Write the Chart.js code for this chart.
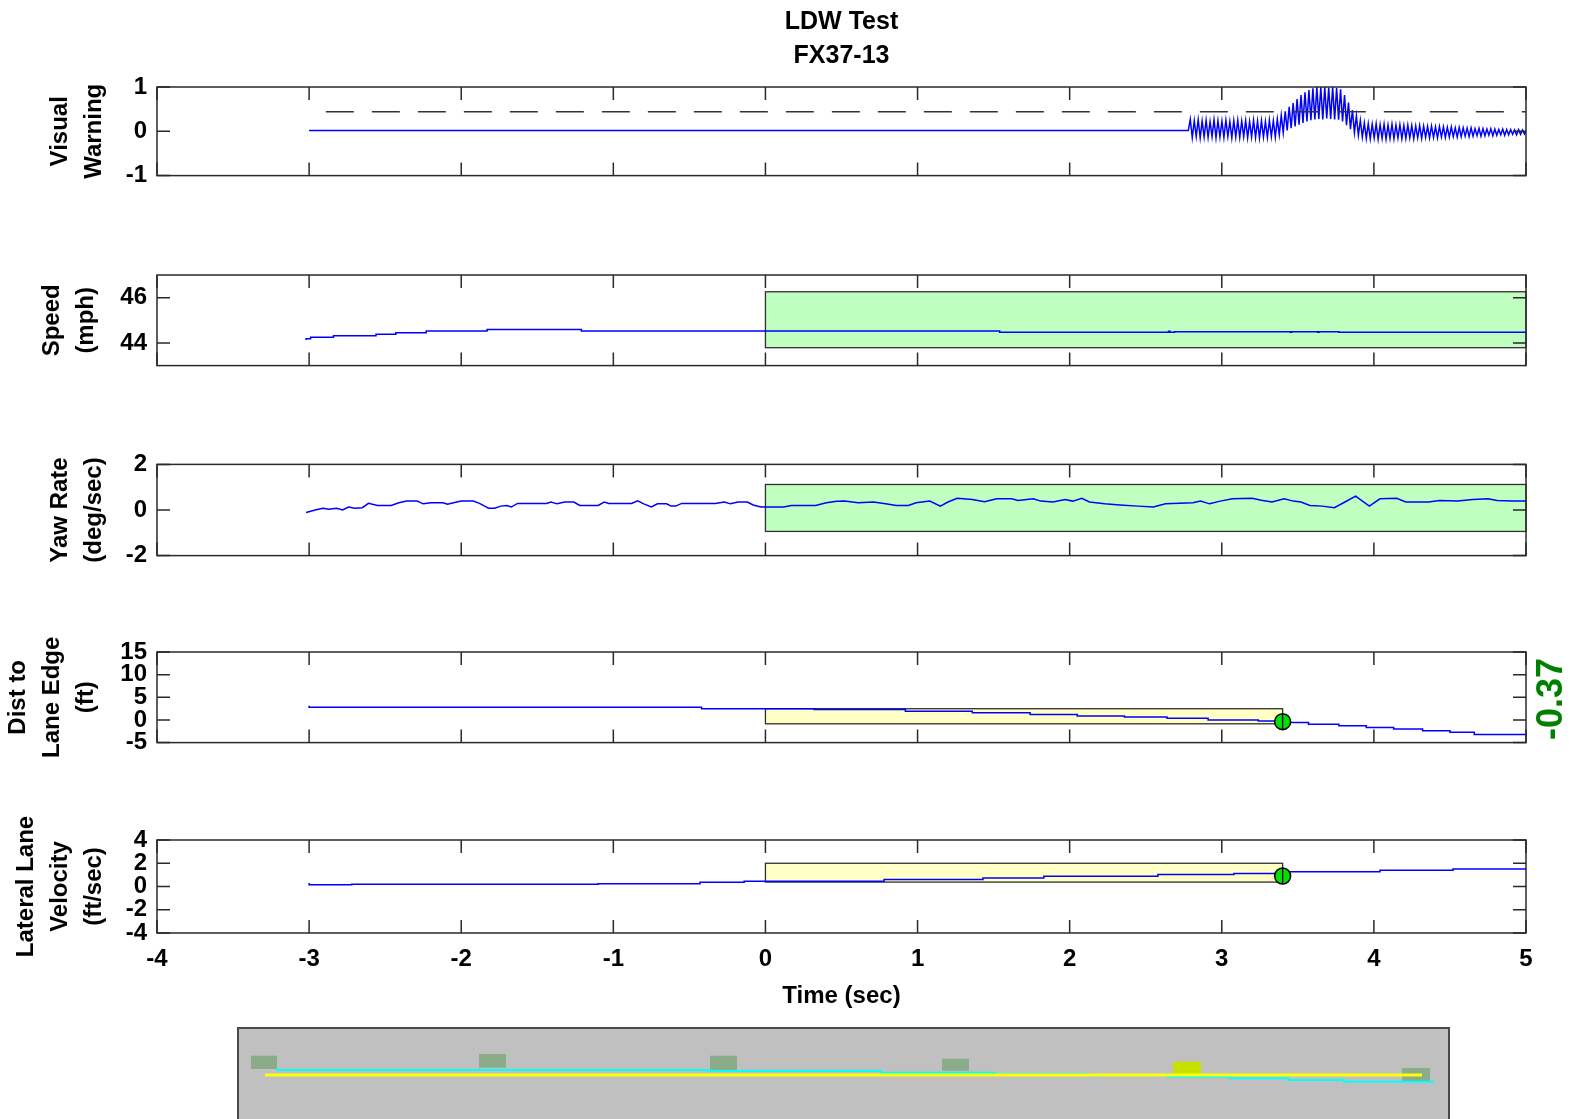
<!DOCTYPE html>
<html>
<head>
<meta charset="utf-8">
<script src="https://cdn.jsdelivr.net/npm/chart.js@4.4.1/dist/chart.umd.min.js"></script>
<style>
html,body{margin:0;padding:0;background:#fff;width:1570px;height:1119px;overflow:hidden;}
canvas{position:absolute;left:0;}
#dval{position:absolute;left:1550px;top:699px;transform:translate(-50%,-50%) rotate(-90deg);white-space:nowrap;line-height:1;
  font-family:"Liberation Sans",Arial,sans-serif;font-weight:bold;font-size:36px;color:#008000;}
</style>
</head>
<body>
<canvas id="c1" width="1570" height="200" style="top:0px"></canvas>
<canvas id="c2" width="1570" height="140" style="top:250px"></canvas>
<canvas id="c3" width="1570" height="140" style="top:440px"></canvas>
<canvas id="c4" width="1570" height="140" style="top:627px"></canvas>
<canvas id="c5" width="1570" height="205" style="top:815px"></canvas>
<canvas id="c6" width="1213" height="92" style="top:1027px;left:237px"></canvas>
<div id="dval">-0.37</div>
<script>
// ---------------- data ----------------
const chartTitle = ['LDW Test', 'FX37-13'];
const xTicks = [-4, -3, -2, -1, 0, 1, 2, 3, 4, 5];

// Visual warning
const vwTime = [-3.000, 2.780, 2.793, 2.806, 2.819, 2.832, 2.845, 2.858, 2.871, 2.884, 2.897, 2.910, 2.923, 2.936, 2.949,
  2.962, 2.975, 2.988, 3.001, 3.014, 3.027, 3.040, 3.053, 3.066, 3.079, 3.092, 3.105, 3.118, 3.131, 3.144, 3.157, 3.170,
  3.183, 3.196, 3.209, 3.222, 3.235, 3.248, 3.261, 3.274, 3.287, 3.300, 3.313, 3.326, 3.339, 3.352, 3.365, 3.378, 3.391,
  3.404, 3.417, 3.430, 3.443, 3.456, 3.469, 3.482, 3.495, 3.508, 3.521, 3.534, 3.547, 3.560, 3.573, 3.586, 3.599, 3.612,
  3.625, 3.638, 3.651, 3.664, 3.677, 3.690, 3.703, 3.716, 3.729, 3.742, 3.755, 3.768, 3.781, 3.794, 3.807, 3.820, 3.833,
  3.846, 3.859, 3.872, 3.885, 3.898, 3.911, 3.924, 3.937, 3.950, 3.963, 3.976, 3.989, 4.002, 4.015, 4.028, 4.041, 4.054,
  4.067, 4.080, 4.093, 4.106, 4.119, 4.132, 4.145, 4.158, 4.171, 4.184, 4.197, 4.210, 4.223, 4.236, 4.249, 4.262, 4.275,
  4.288, 4.301, 4.314, 4.327, 4.340, 4.353, 4.366, 4.379, 4.392, 4.405, 4.418, 4.431, 4.444, 4.457, 4.470, 4.483, 4.496,
  4.509, 4.522, 4.535, 4.548, 4.561, 4.574, 4.587, 4.600, 4.613, 4.626, 4.639, 4.652, 4.665, 4.678, 4.691, 4.704, 4.717,
  4.730, 4.743, 4.756, 4.769, 4.782, 4.795, 4.808, 4.821, 4.834, 4.847, 4.860, 4.873, 4.886, 4.899, 4.912, 4.925, 4.938,
  4.951, 4.964, 4.977, 4.990, 5.000];
const vwValue = [0.02, 0.02, 0.27, -0.14, 0.24, -0.12, 0.26, -0.15, 0.23, -0.13, 0.25, -0.14, 0.22, -0.12, 0.26,
  -0.15, 0.24, -0.13, 0.23, -0.14, 0.25, -0.12, 0.22, -0.15, 0.24, -0.13, 0.25, -0.14, 0.23, -0.12, 0.24, -0.15,
  0.22, -0.13, 0.25, -0.14, 0.23, -0.15, 0.24, -0.13, 0.22, -0.14, 0.25, -0.12, 0.24, -0.13, 0.28, -0.08, 0.36,
  -0.03, 0.45, 0.02, 0.55, 0.07, 0.64, 0.11, 0.73, 0.15, 0.82, 0.19, 0.88, 0.22, 0.93, 0.25, 0.97, 0.27,
  1.00, 0.28, 1.00, 0.27, 1.00, 0.29, 0.99, 0.28, 1.00, 0.27, 0.98, 0.26, 0.95, 0.22, 0.82, 0.14, 0.65,
  0.05, 0.48, -0.03, 0.35, -0.09, 0.25, -0.13, 0.19, -0.16, 0.17, -0.17, 0.16, -0.15, 0.17, -0.18, 0.15, -0.16,
  0.16, -0.18, 0.14, -0.16, 0.16, -0.17, 0.14, -0.15, 0.15, -0.17, 0.13, -0.16, 0.14, -0.15, 0.13, -0.17, 0.12,
  -0.15, 0.13, -0.16, 0.12, -0.14, 0.11, -0.15, 0.12, -0.14, 0.10, -0.15, 0.11, -0.13, 0.10, -0.14, 0.09, -0.13,
  0.10, -0.12, 0.08, -0.13, 0.09, -0.12, 0.08, -0.11, 0.07, -0.12, 0.08, -0.11, 0.06, -0.10, 0.07, -0.11, 0.06,
  -0.10, 0.05, -0.09, 0.06, -0.10, 0.05, -0.09, 0.04, -0.08, 0.05, -0.09, 0.04, -0.08, 0.04, -0.07, 0.03, -0.08,
  0.04, -0.07, 0.03, -0.06, 0.02];
const vwThresholdTime = [-2.89, 5.0];
const vwThresholdValue = [0.44, 0.44];
const vwTicks = [-1, 0, 1];

// Speed
const speedTime = [-3.02, -2.99, -2.84, -2.56, -2.43, -2.23, -1.83, -1.21, 1.54, 2.65, 2.66, 2.69, 3.45, 3.46, 3.63, 3.64, 3.77, 3.78, 5.00];
const speedValue = [44.13, 44.19, 44.25, 44.32, 44.38, 44.45, 44.53, 44.59, 44.53, 44.47, 44.52, 44.47, 44.50, 44.47, 44.50, 44.47, 44.50, 44.47, 44.47];
const speedBandTime = [0, 5];
const speedBand = [43.79, 46.26];
const speedTicks = [44, 46];

// Yaw rate
const yawTime = [-3.02, -2.96, -2.91, -2.87, -2.82, -2.78, -2.74, -2.70, -2.65, -2.61, -2.55, -2.46, -2.41, -2.36, -2.29, -2.25,
  -2.20, -2.12, -2.09, -2.05, -2.00, -1.92, -1.88, -1.82, -1.78, -1.74, -1.70, -1.67, -1.63, -1.44, -1.41, -1.37, -1.32, -1.26,
  -1.22, -1.10, -1.06, -1.03, -0.88, -0.84, -0.80, -0.75, -0.71, -0.65, -0.62, -0.59, -0.55, -0.33, -0.27, -0.23, -0.18, -0.12,
  -0.08, -0.03, 0.02, 0.12, 0.17, 0.33, 0.40, 0.47, 0.52, 0.61, 0.71, 0.79, 0.86, 0.94, 0.99, 1.08, 1.15, 1.20, 1.26, 1.36,
  1.44, 1.52, 1.62, 1.66, 1.76, 1.81, 1.89, 1.97, 2.02, 2.08, 2.13, 2.23, 2.33, 2.45, 2.55, 2.63, 2.81, 2.86, 2.92, 2.99,
  3.07, 3.20, 3.26, 3.33, 3.41, 3.47, 3.52, 3.58, 3.66, 3.74, 3.81, 3.88, 3.97, 4.04, 4.15, 4.21, 4.36, 4.43, 4.55, 4.65,
  4.75, 4.81, 4.91, 5.00];
const yawValue = [-0.11, 0.00, 0.08, 0.03, 0.08, 0.00, 0.13, 0.08, 0.10, 0.29, 0.20, 0.20, 0.32, 0.39, 0.39, 0.27,
  0.32, 0.32, 0.25, 0.32, 0.39, 0.39, 0.29, 0.08, 0.08, 0.17, 0.20, 0.13, 0.29, 0.29, 0.35, 0.27, 0.35, 0.35,
  0.20, 0.20, 0.35, 0.29, 0.29, 0.40, 0.27, 0.13, 0.27, 0.27, 0.17, 0.17, 0.29, 0.29, 0.35, 0.27, 0.35, 0.35,
  0.22, 0.13, 0.13, 0.13, 0.20, 0.20, 0.32, 0.38, 0.39, 0.32, 0.35, 0.27, 0.20, 0.20, 0.32, 0.39, 0.17, 0.35, 0.51, 0.46,
  0.36, 0.49, 0.49, 0.42, 0.49, 0.39, 0.35, 0.46, 0.39, 0.51, 0.35, 0.27, 0.22, 0.17, 0.13, 0.27, 0.32, 0.39, 0.27, 0.39,
  0.49, 0.51, 0.43, 0.35, 0.49, 0.39, 0.35, 0.20, 0.17, 0.10, 0.35, 0.61, 0.17, 0.49, 0.51, 0.35, 0.35, 0.42, 0.39, 0.46,
  0.49, 0.42, 0.39, 0.39];
const yawBandTime = [0, 5];
const yawBand = [-0.94, 1.12];
const yawTicks = [-2, 0, 2];

// Distance to lane edge
const distTime = [-3.00, -0.42, 0.32, 0.92, 1.36, 1.74, 2.05, 2.36, 2.64, 2.91, 3.24, 3.40, 3.57, 3.77, 3.95, 4.13, 4.32, 4.50, 4.66, 4.81, 5.00];
const distValue = [3.13, 2.78, 2.50, 2.28, 1.93, 1.57, 1.21, 0.85, 0.64, 0.36, 0.00, -0.21, -0.57, -0.93, -1.28, -1.64, -2.00, -2.36, -2.71, -3.20, -3.20];
const distBandTime = [0, 3.40];
const distBand = [-0.85, 2.48];
const distMarker = {t: 3.40, v: -0.37};
const distTicks = [-5, 0, 5, 10, 15];

// Lateral lane velocity
const latTime = [-3.00, -2.72, -1.10, -0.43, -0.14, 0.78, 1.43, 1.83, 2.58, 3.08, 3.40, 4.04, 4.52, 4.90, 5.00];
const latValue = [0.30, 0.15, 0.20, 0.23, 0.37, 0.46, 0.60, 0.74, 0.89, 1.03, 1.11, 1.26, 1.40, 1.51, 1.51];
const latBandTime = [0, 3.40];
const latBand = [0.38, 2.00];
const latMarker = {t: 3.40, v: 0.90};
const latTicks = [-4, -2, 0, 2, 4];

// Bird's-eye road view (along-track / cross-track units of the panel)
const laneEdgeX = [28, 1185];
const laneEdgeY = [48, 48];
const pathX = [40, 471, 644, 758, 852, 930, 993, 1052, 1107, 1158, 1197];
const pathY = [41.3, 43, 44, 45.7, 47, 48.3, 49.7, 51.3, 53, 54.7, 54.7];
const carX0 = [14, 242, 473, 705, 936, 1165];
const carX1 = [40, 269, 500, 732, 964, 1193];
const carY0 = [28.7, 27, 28.7, 31.7, 34.7, 41];
const carY1 = [42, 40.7, 43, 43.7, 47, 54.7];
const carAtWarning = 4;

// ---------------- helpers ----------------
const FONT = '"Liberation Sans", Arial, Helvetica, sans-serif';
const FS = 24;
const FW = 'bold';
const pts = (xs, ys) => xs.map((x, i) => ({x: x, y: ys[i]}));

const boxesPlugin = {
  id: 'boxes',
  beforeDatasetsDraw(chart, args, opts) {
    if (!opts || !opts.items) return;
    const {ctx, scales} = chart;
    ctx.save();
    opts.items.forEach(b => {
      const x0 = scales.x.getPixelForValue(b.x[0]);
      const x1 = scales.x.getPixelForValue(b.x[1]);
      const y0 = scales.y.getPixelForValue(b.y[0]);
      const y1 = scales.y.getPixelForValue(b.y[1]);
      ctx.fillStyle = b.fill;
      ctx.fillRect(Math.min(x0, x1), Math.min(y0, y1), Math.abs(x1 - x0), Math.abs(y1 - y0));
      if (b.stroke) {
        ctx.strokeStyle = b.stroke; ctx.lineWidth = 1.3;
        ctx.strokeRect(Math.min(x0, x1), Math.min(y0, y1), Math.abs(x1 - x0), Math.abs(y1 - y0));
      }
    });
    ctx.restore();
  }
};

const framePlugin = {
  id: 'frame',
  afterDatasetsDraw(chart, args, opts) {
    if (!opts || !opts.on) return;
    const {ctx, chartArea: a, scales} = chart;
    ctx.save();
    ctx.strokeStyle = '#2a2a2a';
    ctx.lineWidth = 1.5;
    ctx.strokeRect(a.left, a.top, a.right - a.left, a.bottom - a.top);
    const L = 13;
    ctx.beginPath();
    opts.xTicks.forEach(v => {
      const px = scales.x.getPixelForValue(v);
      ctx.moveTo(px, a.bottom); ctx.lineTo(px, a.bottom - L);
      ctx.moveTo(px, a.top); ctx.lineTo(px, a.top + L);
    });
    opts.yTicks.forEach(v => {
      const py = scales.y.getPixelForValue(v);
      ctx.moveTo(a.left, py); ctx.lineTo(a.left + L, py);
      ctx.moveTo(a.right, py); ctx.lineTo(a.right - L, py);
    });
    ctx.stroke();
    ctx.restore();
  }
};

const roadBgPlugin = {
  id: 'roadbg',
  beforeDatasetsDraw(chart) {
    const {ctx, chartArea: a} = chart;
    ctx.save();
    ctx.fillStyle = '#c0c0c0';
    ctx.fillRect(a.left, a.top, a.right - a.left, a.bottom - a.top);
    ctx.strokeStyle = '#4a4a4a';
    ctx.lineWidth = 2;
    ctx.beginPath();
    ctx.moveTo(a.left + 1, a.bottom); ctx.lineTo(a.left + 1, a.top + 1); ctx.lineTo(a.right - 1, a.top + 1); ctx.lineTo(a.right - 1, a.bottom);
    ctx.stroke();
    ctx.restore();
  }
};

function yAxis(min, max, ticks, title, titlePad) {
  return {
    type: 'linear', min: min, max: max, position: 'left',
    afterBuildTicks: s => { s.ticks = ticks.map(v => ({value: v})); },
    afterFit: s => { s.width = 157; },
    grid: {display: false, drawTicks: false},
    border: {display: false},
    ticks: {color: '#000', font: {family: FONT, size: FS, weight: FW}, padding: 10, callback: v => String(v), autoSkip: false},
    title: {display: true, text: title, color: '#000', font: {family: FONT, size: FS, weight: FW, lineHeight: '34px'}, padding: {top: titlePad, bottom: 0}}
  };
}

function hiddenX() {
  return {type: 'linear', min: -4, max: 5, display: false};
}

const blueLine = (data, stepped) => ({
  data: data, showLine: true, borderColor: '#0000ff', borderWidth: 1.5, pointRadius: 0, stepped: stepped || false, order: 2
});

function markerSets(m) {
  return [
    {data: [{x: m.t, y: m.v}], pointStyle: 'circle', pointRadius: 8, pointBackgroundColor: '#00e000', pointBorderColor: '#000', pointBorderWidth: 1.5, order: 1},
    {data: [{x: m.t, y: m.v}], pointStyle: 'line', pointRotation: 90, pointRadius: 8, pointBorderColor: '#000', pointBorderWidth: 1.3, order: 0}
  ];
}

function baseOptions(extra) {
  return {
    responsive: false, animation: false, events: [],
    layout: {padding: extra.padding},
    scales: {x: extra.x || hiddenX(), y: extra.y},
    plugins: {
      legend: {display: false}, tooltip: {enabled: false},
      title: extra.title || {display: false},
      boxes: {items: extra.boxes || []},
      frame: {on: true, xTicks: xTicks, yTicks: extra.yTicks}
    }
  };
}

const GREEN = '#bfffbf', YELLOW = '#ffffc6', EDGE = '#2f2f2f';

// Panel 1 : Visual warning
new Chart(document.getElementById('c1'), {
  type: 'scatter',
  data: {datasets: [
    {data: pts(vwThresholdTime, vwThresholdValue), showLine: true, borderColor: '#333', borderWidth: 1.5, borderDash: [28, 18], pointRadius: 0},
    blueLine(pts(vwTime, vwValue))
  ]},
  options: baseOptions({
    padding: {left: 0, right: 44, top: 0, bottom: 22},
    y: yAxis(-1, 1, vwTicks, ['Visual', 'Warning'], 43),
    yTicks: vwTicks,
    title: {display: true, text: chartTitle, fullSize: false, color: '#000', font: {family: FONT, size: 25, weight: FW, lineHeight: '34px'}, padding: {top: 5, bottom: 14}}
  }),
  plugins: [boxesPlugin, framePlugin]
});

// Panel 2 : Speed
new Chart(document.getElementById('c2'), {
  type: 'scatter',
  data: {datasets: [blueLine(pts(speedTime, speedValue), 'after')]},
  options: baseOptions({
    padding: {left: 0, right: 44, top: 25, bottom: 23},
    y: yAxis(43, 47, speedTicks, ['Speed', '(mph)'], 35),
    yTicks: speedTicks,
    boxes: [{x: speedBandTime, y: speedBand, fill: GREEN, stroke: EDGE}]
  }),
  plugins: [boxesPlugin, framePlugin]
});

// Panel 3 : Yaw rate
new Chart(document.getElementById('c3'), {
  type: 'scatter',
  data: {datasets: [blueLine(pts(yawTime, yawValue))]},
  options: baseOptions({
    padding: {left: 0, right: 44, top: 24, bottom: 24},
    y: yAxis(-2, 2, yawTicks, ['Yaw Rate', '(deg/sec)'], 43),
    yTicks: yawTicks,
    boxes: [{x: yawBandTime, y: yawBand, fill: GREEN, stroke: EDGE}]
  }),
  plugins: [boxesPlugin, framePlugin]
});

// Panel 4 : Distance to lane edge
new Chart(document.getElementById('c4'), {
  type: 'scatter',
  data: {datasets: [blueLine(pts(distTime, distValue), 'after')].concat(markerSets(distMarker))},
  options: baseOptions({
    padding: {left: 0, right: 44, top: 25, bottom: 22},
    y: yAxis(-5, 15, distTicks, ['Dist to', 'Lane Edge', '(ft)'], 1),
    yTicks: distTicks,
    boxes: [{x: distBandTime, y: distBand, fill: YELLOW, stroke: EDGE}]
  }),
  plugins: [boxesPlugin, framePlugin]
});

// Panel 5 : Lateral lane velocity
new Chart(document.getElementById('c5'), {
  type: 'scatter',
  data: {datasets: [blueLine(pts(latTime, latValue), 'after')].concat(markerSets(latMarker))},
  options: baseOptions({
    padding: {left: 0, right: 44, top: 25, bottom: 0},
    x: {
      type: 'linear', min: -4, max: 5, position: 'bottom',
      afterBuildTicks: s => { s.ticks = xTicks.map(v => ({value: v})); },
      afterFit: s => { s.height = 87; },
      grid: {display: false, drawTicks: false},
      border: {display: false},
      ticks: {color: '#000', font: {family: FONT, size: FS, weight: FW}, padding: 12, maxRotation: 0, autoSkip: false, callback: v => String(v)},
      title: {display: true, text: 'Time (sec)', color: '#000', font: {family: FONT, size: FS, weight: FW}, padding: {top: 0, bottom: 9}}
    },
    y: yAxis(-4, 4, latTicks, ['Lateral Lane', 'Velocity', '(ft/sec)'], 9),
    yTicks: latTicks,
    boxes: [{x: latBandTime, y: latBand, fill: YELLOW, stroke: EDGE}]
  }),
  plugins: [boxesPlugin, framePlugin]
});

// Panel 6 : bird's-eye road view
const carBoxes = carX0.map((x0, i) => ({
  x: [x0, carX1[i]], y: [carY0[i], carY1[i]],
  fill: i === carAtWarning ? '#c8e000' : 'rgba(110,160,110,0.65)'
}));
new Chart(document.getElementById('c6'), {
  type: 'scatter',
  data: {datasets: [
    {data: pts(laneEdgeX, laneEdgeY), showLine: true, borderColor: '#ffff00', borderWidth: 3, pointRadius: 0},
    {data: pts(pathX, pathY), showLine: true, stepped: 'after', borderColor: '#00ffff', borderWidth: 2, pointRadius: 0}
  ]},
  options: {
    responsive: false, animation: false, events: [],
    layout: {padding: 0},
    scales: {
      x: {type: 'linear', min: 0, max: 1213, display: false},
      y: {type: 'linear', min: 0, max: 92, reverse: true, display: false}
    },
    plugins: {legend: {display: false}, tooltip: {enabled: false}, boxes: {items: carBoxes}}
  },
  plugins: [roadBgPlugin, boxesPlugin]
});
</script>
</body>
</html>
